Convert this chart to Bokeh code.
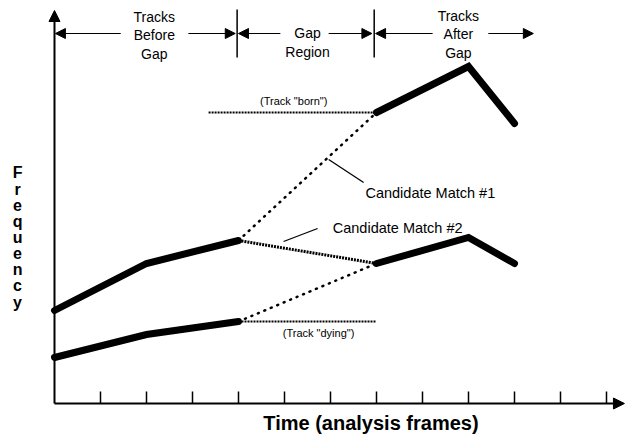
from bokeh.plotting import figure
from bokeh.models import Range1d, Arrow, NormalHead
from bokeh.core.properties import value
from bokeh.embed import file_html
from bokeh.resources import INLINE

FONT = value("Liberation Sans")

# ---- data (time in analysis frames, frequency in arbitrary units) ----
tick_frames = [1, 2, 3, 4, 5, 6, 7, 8, 9, 10, 11, 12]

upper_before_t = [0, 2, 4]
upper_before_f = [93, 140, 163]
lower_before_t = [0, 2, 4]
lower_before_f = [46, 69, 82]

upper_after_t = [7, 9, 10]
upper_after_f = [291, 337, 280]
lower_after_t = [7, 9, 10]
lower_after_f = [140, 166, 140]

gap_start, gap_end = 4, 7
born_start_t = 3.35

region_labels = ["Tracks\nBefore\nGap", "Gap\nRegion", "Tracks\nAfter\nGap"]
region_label_t = [2.17, 5.5, 8.78]
region_label_f = [368, 361, 369]

p = figure(width=633, height=435, x_range=Range1d(-1.1739, 12.587), y_range=Range1d(-32, 403),
           output_backend="svg", toolbar_location=None, min_border=0)
p.axis.visible = False
p.grid.visible = False
p.outline_line_color = None
p.background_fill_color = "white"

# axes with arrows
p.add_layout(Arrow(end=NormalHead(size=11, fill_color="black", line_color="black"),
                   x_start=0, y_start=0, x_end=12.39, y_end=0, line_width=2))
p.add_layout(Arrow(end=NormalHead(size=11, fill_color="black", line_color="black"),
                   x_start=0, y_start=0, x_end=0, y_end=393, line_width=2))
# ticks
p.segment(x0=tick_frames, y0=[0] * len(tick_frames), x1=tick_frames, y1=[12] * len(tick_frames),
          line_color="black", line_width=1.5)

# region dividers
p.segment(x0=[gap_start - 0.03, gap_end - 0.05], y0=[346, 346], x1=[gap_start - 0.03, gap_end - 0.05],
          y1=[394, 394], line_color="black", line_width=1.5)

# region arrows
arrow_y = 370
arrow_specs = [(1.44, 0.02), (2.91, 3.93), (4.91, 4.0), (5.96, 6.9), (8.22, 6.98), (9.43, 10.41)]
for xs, xe in arrow_specs:
    p.add_layout(Arrow(end=NormalHead(size=10, fill_color="black", line_color="black"),
                       x_start=xs, y_start=arrow_y, x_end=xe, y_end=arrow_y, line_width=1.2))

p.text(x=region_label_t, y=region_label_f, text=region_labels, text_font=FONT,
       text_font_size="14px", text_align="center", text_baseline="middle",
       text_line_height=1.15, text_color="black")

# candidate match dotted lines
p.line([upper_before_t[-1], upper_after_t[0]], [upper_before_f[-1], upper_after_f[0]],
       line_color="black", line_width=2.5, line_dash="1 6", line_cap="round")
p.line([lower_before_t[-1], lower_after_t[0]], [lower_before_f[-1], lower_after_f[0]],
       line_color="black", line_width=2.5, line_dash="1 6", line_cap="round")
# hatched match line
p.line([upper_before_t[-1], lower_after_t[0]], [upper_before_f[-1], lower_after_f[0]],
       line_color="black", line_width=3, line_dash="2 1")
# born / dying lines
p.line([born_start_t, upper_after_t[0]], [upper_after_f[0], upper_after_f[0]],
       line_color="black", line_width=2, line_dash="2 1")
p.line([lower_before_t[-1], gap_end], [lower_before_f[-1], lower_before_f[-1]],
       line_color="black", line_width=2, line_dash="2 1")

# tracks
for t, f in [(upper_before_t, upper_before_f), (lower_before_t, lower_before_f),
             (upper_after_t, upper_after_f), (lower_after_t, lower_after_f)]:
    p.line(t, f, line_color="black", line_width=7, line_cap="round", line_join="miter")

# leader lines
p.segment(x0=[5.96, 4.98], y0=[244, 162], x1=[6.72, 5.72], y1=[221, 175],
          line_color="black", line_width=1.3)

p.text(x=[8.17, 7.46], y=[211, 176], text=["Candidate Match #1", "Candidate Match #2"],
       text_font=FONT, text_font_size="14.5px", text_align="center", text_baseline="middle")
p.text(x=[5.2, 5.74], y=[303, 71], text=['(Track "born")', '(Track "dying")'],
       text_font=FONT, text_font_size="11px", text_align="center", text_baseline="middle")

# axis titles
p.text(x=[-0.804], y=[166], text=["F\nr\ne\nq\nu\ne\nn\nc\ny"], text_font=FONT,
       text_font_size="16px", text_font_style="bold", text_align="center",
       text_baseline="middle", text_line_height=0.95)
p.text(x=[7.0], y=[-19], text=["Time  (analysis  frames)"], text_font=FONT,
       text_font_size="20px", text_font_style="bold", text_align="center",
       text_baseline="middle")

open("out.html", "w").write(file_html(p, INLINE))
